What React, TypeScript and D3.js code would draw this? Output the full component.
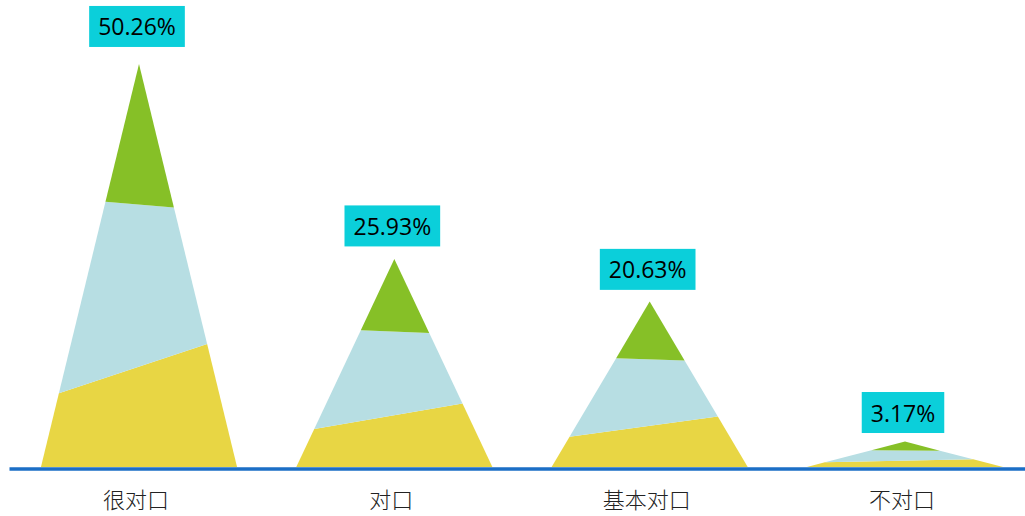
import React, { useEffect, useRef } from 'react'
import * as d3 from 'd3'

const categories = ['很对口', '对口', '基本对口', '不对口']
const values = [50.26, 25.93, 20.63, 3.17]
const valueLabels = ['50.26%', '25.93%', '20.63%', '3.17%']

// split of each mountain into three bands, as share of its height on the left and right edge
const layerNames = ['bottom', 'middle', 'top']
const leftCuts = [0, 0.183, 0.658, 1]
const rightCuts = [0, 0.305, 0.644, 1]
const layerColors = ['#E8D644', '#B7DEE3', '#86C027']

const width = 1025
const height = 516

const App: React.FC = () => {
  const ref = useRef<SVGSVGElement | null>(null)

  useEffect(() => {
    if (!ref.current) {
      return
    }
    const svg = d3.select(ref.current)
    svg.selectAll('*').remove()

    const baseY = 467
    const xScale = d3.scalePoint<string>().domain(categories).range([139, 905])
    const yScale = d3.scaleLinear().domain([0, 55]).range([baseY, 26])
    const halfWidth = xScale.step() * 0.384

    const line = d3.line<[number, number]>()

    const mountains = svg
      .selectAll('g.mountain')
      .data(categories.map((c, i) => ({ category: c, value: values[i], label: valueLabels[i] })))
      .enter()
      .append('g')
      .attr('class', 'mountain')

    layerNames.forEach((name, li) => {
      mountains
        .append('path')
        .attr('class', `layer-${name}`)
        .attr('fill', layerColors[li])
        .attr('d', (d) => {
          const cx = xScale(d.category) ?? 0
          const h = baseY - yScale(d.value)
          const left = (f: number): [number, number] => [cx - halfWidth * (1 - f), baseY - h * f]
          const right = (f: number): [number, number] => [cx + halfWidth * (1 - f), baseY - h * f]
          return (
            line([left(leftCuts[li]), right(rightCuts[li]), right(rightCuts[li + 1]), left(leftCuts[li + 1])]) + 'Z'
          )
        })
    })

    svg
      .append('line')
      .attr('x1', 9.5)
      .attr('x2', width)
      .attr('y1', baseY + 2)
      .attr('y2', baseY + 2)
      .attr('stroke', '#1B6EC6')
      .attr('stroke-width', 3.6)

    // value badges
    mountains.each(function (d) {
      const g = d3.select(this)
      const cx = (xScale(d.category) ?? 0) - 2
      const boxBottom = yScale(d.value) - (8 + 0.18 * d.value)
      const boxH = 41
      const text = g
        .append('text')
        .attr('x', cx)
        .attr('y', boxBottom - boxH + 29.5)
        .attr('text-anchor', 'middle')
        .attr('font-family', '"Open Sans", "Noto Sans", sans-serif')
        .attr('font-size', 23)
        .attr('fill', '#000')
        .text(d.label)
      const tw = (text.node() as SVGTextElement).getComputedTextLength()
      g.insert('rect', 'text')
        .attr('x', cx - tw / 2 - 9)
        .attr('y', boxBottom - boxH)
        .attr('width', tw + 18)
        .attr('height', boxH)
        .attr('fill', '#0BCFDA')
    })

    svg
      .selectAll('text.category')
      .data(categories)
      .enter()
      .append('text')
      .attr('class', 'category')
      .attr('x', (d) => (xScale(d) ?? 0) - 3)
      .attr('y', 508)
      .attr('text-anchor', 'middle')
      .attr('font-family', '"Noto Sans CJK SC", sans-serif')
      .attr('font-weight', 300)
      .attr('font-size', 22)
      .attr('fill', '#222')
      .text((d) => d)
  }, [])

  return (
    <svg
      ref={ref}
      width={width}
      height={height}
      style={{ position: 'absolute', left: 0, top: 0, background: '#fff' }}
      role="img"
      aria-label="对口程度"
    />
  )
}

export default App
